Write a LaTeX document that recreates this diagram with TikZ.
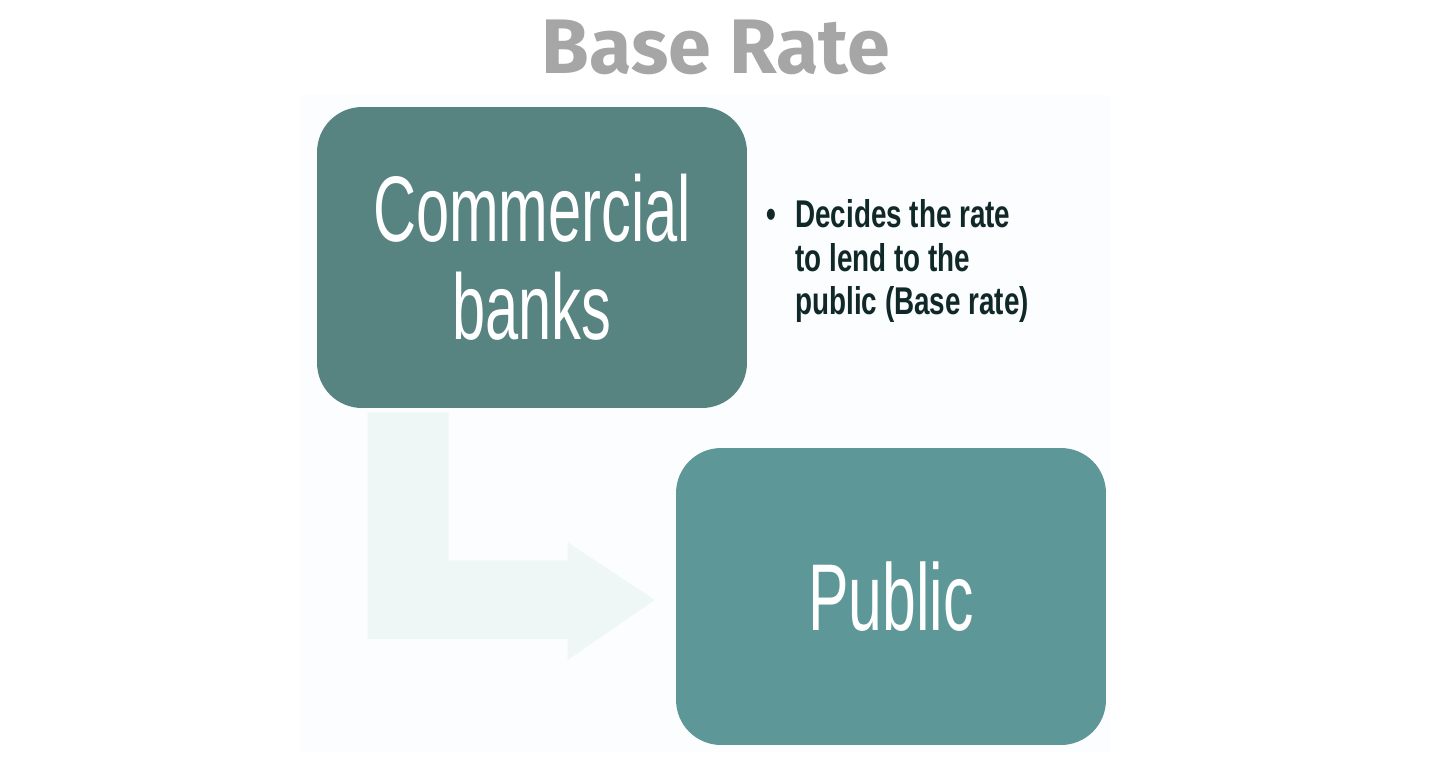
\documentclass[tikz,border=0pt]{standalone}
\usepackage{fontspec}
\usepackage{tikz}
\usetikzlibrary{calc}
\setmainfont{Liberation Sans}
\newfontfamily\titlefont{Fira Sans}
\newfontfamily\boxfont[FakeStretch=0.64]{Liberation Sans}
\newfontfamily\notefont[FakeStretch=0.72]{Liberation Sans}
\definecolor{DarkTeal}{HTML}{578381}
\definecolor{MidTeal}{HTML}{5E9797}
\definecolor{PaleTeal}{HTML}{EFF7F6}
\definecolor{Panel}{HTML}{FBFDFE}
\definecolor{TitleGrey}{HTML}{A6A6A6}
\definecolor{NoteInk}{HTML}{102828}

\begin{document}
\begin{tikzpicture}[x=0.02cm,y=-0.02cm,
  bankbox/.style={rounded corners=0.9cm,minimum width=8.6cm,inner sep=0pt,text=white,align=center},
  flowarrow/.style={fill=PaleTeal}]
\useasboundingbox (0,0) rectangle (1430,769);
\fill[Panel] (300,95) rectangle (1110,752);
% titel
\node[anchor=base,text=TitleGrey,font=\titlefont\bfseries\fontsize{44}{48}\selectfont] (title) at (716,73) {Base Rate};
% boxen
\node[bankbox,fill=DarkTeal,minimum height=6.02cm,font=\boxfont\fontsize{53}{56}\selectfont] (banks) at (532,257.5) {Commercial\\banks};
\node[bankbox,fill=MidTeal,minimum height=5.94cm,font=\boxfont\fontsize{54}{58}\selectfont] (public) at (891,596.5) {Public};
% pfeil
\coordinate (tip) at ($(public.west)+(-21,3.5)$);
\fill[flowarrow] ($(banks.south west)+(51,4)$) -- ++(81,0) -- ++(0,148) -- ++(119,0) -- ++(0,-18) -- (tip) -- ++(-87,60) -- ++(0,-21) -- ++(-200,0) -- cycle;
% notiz
\node[anchor=north west,inner sep=0pt,text=NoteInk,font=\notefont\bfseries\fontsize{22}{25}\selectfont] (note) at (766,196)
  {\begin{tabular}{@{}l@{\hspace{11pt}}l@{}}\textbullet & Decides the rate\\ & to lend to the\\ & public (Base rate)\end{tabular}};
\end{tikzpicture}
\end{document}
